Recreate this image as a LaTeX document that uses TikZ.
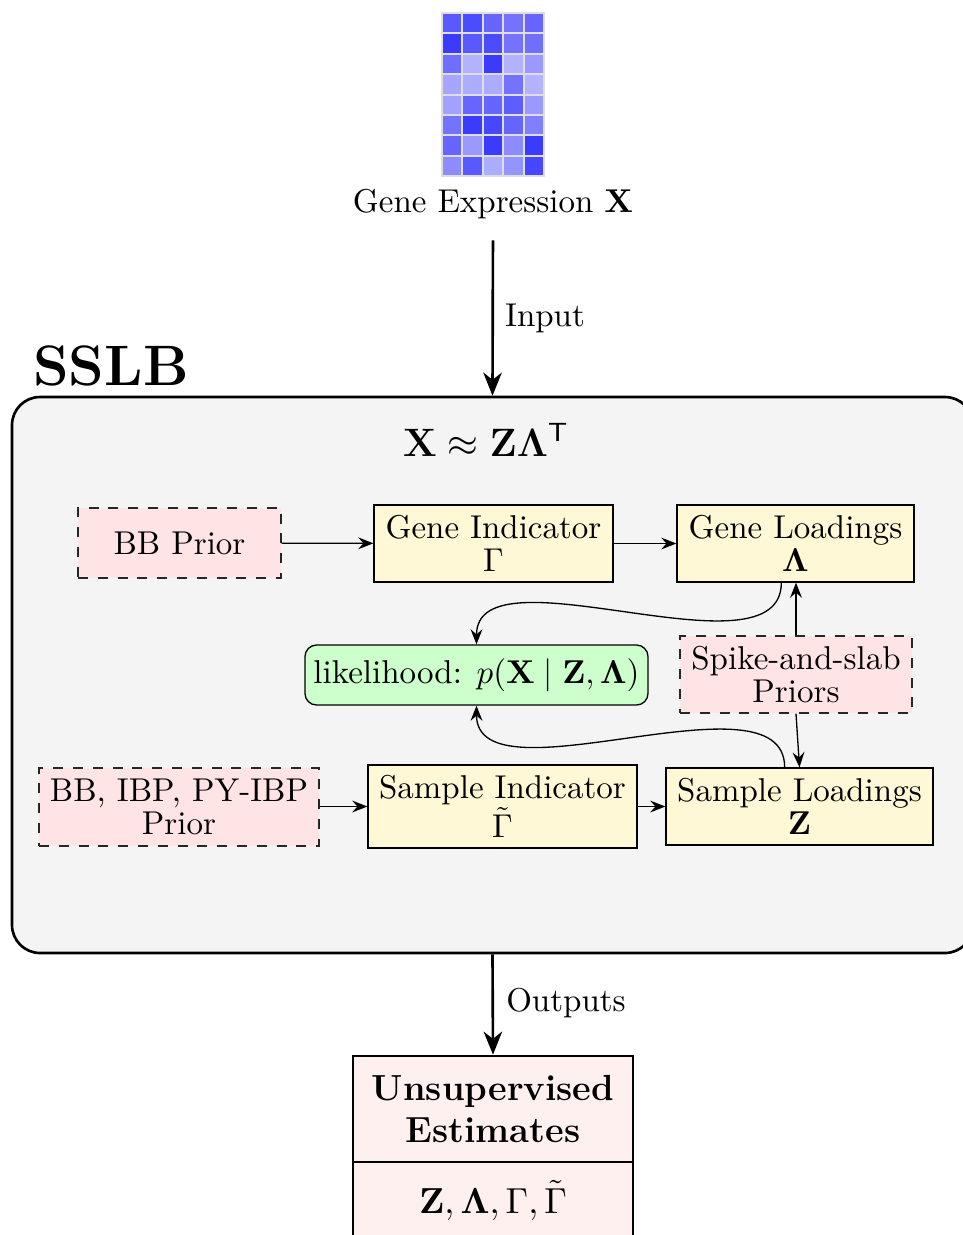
\documentclass[tikz,border=0pt]{standalone}
\usepackage{amsmath,bm}
\usetikzlibrary{arrows.meta}

\definecolor{priorfill}{RGB}{255,228,230}
\definecolor{varfill}{RGB}{255,248,214}
\definecolor{likfill}{RGB}{204,255,204}
\definecolor{modelfill}{RGB}{244,244,244}
\definecolor{estfill}{RGB}{255,240,240}
\definecolor{cellline}{RGB}{222,222,222}
% one drawing unit
\def\pxu{0.303pt}

\begin{document}
\begin{tikzpicture}[x=0.303pt,y=-0.303pt,
  every node/.style={inner sep=2pt},
  prior/.style={draw=black!85, dashed, fill=priorfill, align=center},
  varbox/.style={draw=black, fill=varfill, align=center},
  likbox/.style={draw=black, fill=likfill, rounded corners=3.5pt, align=center},
  model/.style={draw=black, thick, fill=modelfill, rounded corners=8.5pt},
  estbox/.style={draw=black, thick, fill=estfill, align=center, minimum width=280*\pxu},
  flow/.style={-{Stealth[length=4.6pt,width=3.6pt,inset=1.6pt]}, black},
  bigflow/.style={thick, -{Stealth[length=7pt,width=5.6pt,inset=2.2pt]}}
]
\useasboundingbox (0,0) rectangle (963,1235);
\clip (0,0) rectangle (963,1235);

% expression heatmap
\foreach \row [count=\r from 0] in {
  {65,70,60,55,60},
  {77,65,70,55,57},
  {57,30,77,30,40},
  {35,32,33,55,30},
  {37,60,60,63,40},
  {55,77,72,60,50},
  {60,40,77,45,77},
  {45,65,32,42,72}} {
  \foreach \v [count=\c from 0] in \row {
    \filldraw[fill=blue!\v!white, draw=cellline, line width=0.6pt]
      ({442+20.4*\c},{13+20.4*\r}) rectangle ++(20.4,20.4);
  }
}
\node (gex) at (493,204) {Gene Expression $\mathbf{X}$};

% model container
\node[model, minimum width=961*\pxu, minimum height=556*\pxu] (sslb) at (492.5,675) {};
\node[font=\LARGE\bfseries] (sslbname) at (111,366) {SSLB};
\node (eq) at (486,440) {\large $\mathbf{X}\approx\mathbf{Z}\bm{\Lambda}^{\mathsf{T}}$};

\draw[bigflow, shorten <=4.3pt] (gex.south) -- (sslb.north);
\node (inlab) at (545,318) {Input};

% gene side
\node[prior, minimum width=203*\pxu, minimum height=70*\pxu] (bb) at (179.5,543) {BB Prior};
\node[varbox, minimum width=239*\pxu, minimum height=77*\pxu] (gi) at (493.5,543.5) {Gene Indicator\\[-2pt]$\Gamma$};
\node[varbox, minimum width=237*\pxu, minimum height=77*\pxu] (gl) at (795.5,543.5) {Gene Loadings\\[-2pt]$\bm{\Lambda}$};

% likelihood and spike-and-slab priors
\node[likbox, minimum width=343*\pxu, minimum height=60*\pxu] (lik) at (476.5,675) {likelihood: $p(\mathbf{X}\mid\mathbf{Z},\bm{\Lambda})$};
\node[prior, minimum width=232*\pxu, minimum height=77*\pxu] (ss) at (796,674.5) {Spike-and-slab\\[-2pt]Priors};

% sample side
\node[prior, minimum width=280*\pxu, minimum height=78*\pxu] (ibp) at (179,807) {BB, IBP, PY-IBP\\[-2pt]Prior};
\node[varbox, minimum width=269*\pxu, minimum height=83*\pxu] (si) at (502.5,806.5) {Sample Indicator\\$\tilde{\Gamma}$};
\node[varbox, minimum width=267*\pxu, minimum height=77*\pxu] (sl) at (799.5,806.5) {Sample Loadings\\[-2pt]$\mathbf{Z}$};

% connectors
\draw[flow] (bb) -- (gi);
\draw[flow] (gi) -- (gl);
\draw[flow] (ibp.east |- si) -- (si);
\draw[flow] (si) -- (sl.west |- si);
\draw[flow] (ss.north) -- (ss.north |- gl.south);
\draw[flow] (ss.south) -- (sl.north);
\draw[flow] ([xshift=-4.3pt]gl.south) .. controls +(0,100) and +(0,-100) .. (lik.north);
\draw[flow] ([xshift=-4.5pt]sl.north) .. controls +(0,-100) and +(0,100) .. (lik.south);

% estimates
\node[estbox, minimum height=106*\pxu, font=\fontsize{11}{13}\selectfont\bfseries] (esta) at (493,1109) {Unsupervised\\Estimates};
\node[estbox, minimum height=76*\pxu, font=\fontsize{11}{13}\selectfont] (estb) at (493,1200) {$\mathbf{Z},\bm{\Lambda},\Gamma,\tilde{\Gamma}$};

\draw[bigflow] (sslb.south) -- (esta.north);
\node (outlab) at (566,1003) {Outputs};
\end{tikzpicture}
\end{document}
